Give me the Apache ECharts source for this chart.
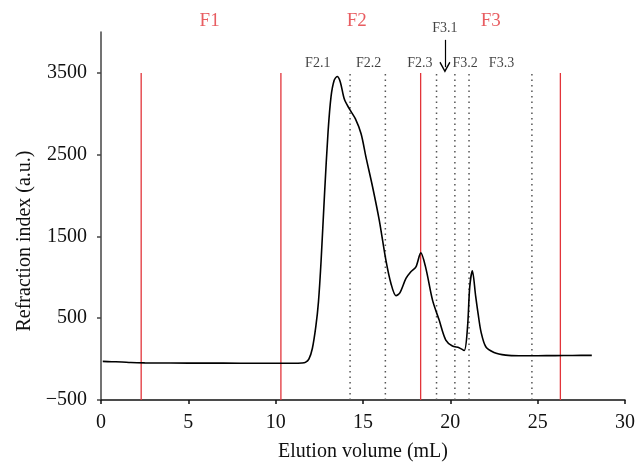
<!DOCTYPE html>
<html>
<head>
<meta charset="utf-8">
<script src="https://cdn.jsdelivr.net/npm/echarts@6/dist/echarts.min.js"></script>
<style>html,body{margin:0;padding:0;background:#fff;}#c{width:638px;height:468px;}</style>
</head>
<body>
<div id="c"></div>
<script>
// Elution volume (mL) and refraction index (a.u.)
var elutionVolume = [0.1, 0.6, 1.2, 1.7, 2.5, 4, 6, 8, 10, 11, 11.5, 11.7, 11.9, 12.1, 12.3, 12.45, 12.6, 12.8, 13.0, 13.17, 13.35, 13.52, 13.7, 13.93, 14.22, 14.56, 14.89, 15.17, 15.55, 15.93, 16.31, 16.6, 16.89, 17.11, 17.46, 17.74, 18.03, 18.31, 18.6, 18.98, 19.36, 19.74, 20.12, 20.5, 20.79, 20.98, 21.11, 21.26, 21.45, 21.6, 21.76, 22.03, 22.5, 23.17, 23.93, 25, 26, 27, 28.1];
var refractionIndex = [-28, -32, -35, -42, -46, -48, -49, -50, -51, -51, -48, -40, 0, 130, 400, 700, 1200, 2030, 2780, 3210, 3410, 3456, 3390, 3180, 3060, 2940, 2756, 2470, 2105, 1700, 1210, 925, 775, 810, 986, 1067, 1128, 1299, 1110, 721, 477, 233, 160, 140, 105, 380, 880, 1079, 770, 540, 330, 151, 82, 49, 41, 42, 43, 45, 46];

var fractionBounds = [2.3, 10.3, 18.3, 26.3];          // red solid lines
var subFractionBounds = [14.26, 16.28, 19.21, 20.26, 21.07, 24.67]; // dotted lines
var boundBottom = -500, boundTop = 3500;

var fractionNames = ['F1', 'F2', 'F3'];
var fractionNameX = [6.22, 14.64, 22.31];
var fractionNameY = 4130;

var subNames = ['F2.1', 'F2.2', 'F2.3', 'F3.1', 'F3.2', 'F3.3'];
var subNameX = [12.41, 15.32, 18.26, 19.69, 20.85, 22.93];
var subNameY = [3623, 3623, 3623, 4048, 3623, 3623];

var arrowX = 19.69, arrowFrom = 3904, arrowTo = 3570;

var xTicks = [0, 5, 10, 15, 20, 25, 30];
var yTicks = [-500, 500, 1500, 2500, 3500];

var serif = '"Liberation Serif", "DejaVu Serif", serif';
var red = '#e2343a';

var curve = elutionVolume.map(function (x, i) { return [x, refractionIndex[i]]; });

var series = [];
fractionBounds.forEach(function (x) {
  series.push({
    type: 'line', data: [[x, boundBottom], [x, boundTop]], symbol: 'none', silent: true,
    lineStyle: { color: red, width: 1.3 }, z: 1
  });
});
subFractionBounds.forEach(function (x) {
  series.push({
    type: 'line', data: [[x, boundBottom], [x, boundTop]], symbol: 'none', silent: true,
    lineStyle: { color: '#555', width: 1.5, type: [1.5, 4] }, z: 1
  });
});
series.push({
  type: 'line', data: curve, symbol: 'none', smooth: 0.3,
  lineStyle: { color: '#000', width: 1.6 }, z: 5
});
series.push({
  type: 'scatter', symbolSize: 0, clip: false, silent: true,
  data: fractionNames.map(function (n, i) { return { value: [fractionNameX[i], fractionNameY], name: n }; }),
  label: { show: true, position: 'inside', formatter: '{b}', color: red, fontFamily: serif, fontSize: 19 },
  z: 6
});
series.push({
  type: 'scatter', symbolSize: 0, clip: false, silent: true,
  data: subNames.map(function (n, i) { return { value: [subNameX[i], subNameY[i]], name: n }; }),
  label: { show: true, position: 'inside', formatter: '{b}', color: '#111', fontFamily: serif, fontSize: 14 },
  markLine: {
    silent: true, symbol: ['none', 'path://M5,0 L10,9 L9,10 L5,2.6 L1,10 L0,9 Z'], symbolSize: [11, 11],
    label: { show: false },
    lineStyle: { color: '#000', width: 1.2, type: 'solid' },
    data: [[{ coord: [arrowX, arrowFrom] }, { coord: [arrowX, arrowTo] }]]
  },
  z: 6
});

var chart = echarts.init(document.getElementById('c'), null, { renderer: 'canvas' });
chart.setOption({
  animation: false,
  backgroundColor: '#fff',
  grid: { left: 101, right: 12, top: 32, bottom: 68, containLabel: false },
  xAxis: {
    type: 'value', min: 0, max: 30, interval: 5,
    name: 'Elution volume (mL)', nameLocation: 'middle', nameGap: 42,
    nameTextStyle: { fontFamily: serif, fontSize: 20, color: '#111' },
    axisLine: { show: true, onZero: false, lineStyle: { color: '#111', width: 1.5 } },
    axisTick: { show: true, length: 4, lineStyle: { color: '#111', width: 1.5 }, customValues: xTicks },
    axisLabel: { fontFamily: serif, fontSize: 20, color: '#111', margin: 13, customValues: xTicks },
    splitLine: { show: false }
  },
  yAxis: {
    type: 'value', min: -500, max: 4000,
    name: 'Refraction index (a.u.)', nameLocation: 'middle', nameGap: 66, nameRotate: 90,
    nameTextStyle: { fontFamily: serif, fontSize: 20, color: '#111', padding: [0, 50, 0, 0] },
    axisLine: { show: true, onZero: false, lineStyle: { color: '#444', width: 1.5 } },
    axisTick: { show: true, length: 4, lineStyle: { color: '#444', width: 1.5 }, customValues: yTicks },
    axisLabel: {
      fontFamily: serif, fontSize: 20, color: '#111', margin: 14, customValues: yTicks,
      formatter: function (v) { return v < 0 ? '\u2212' + Math.abs(v) : String(v); }
    },
    splitLine: { show: false }
  },
  series: series
});
</script>
</body>
</html>
